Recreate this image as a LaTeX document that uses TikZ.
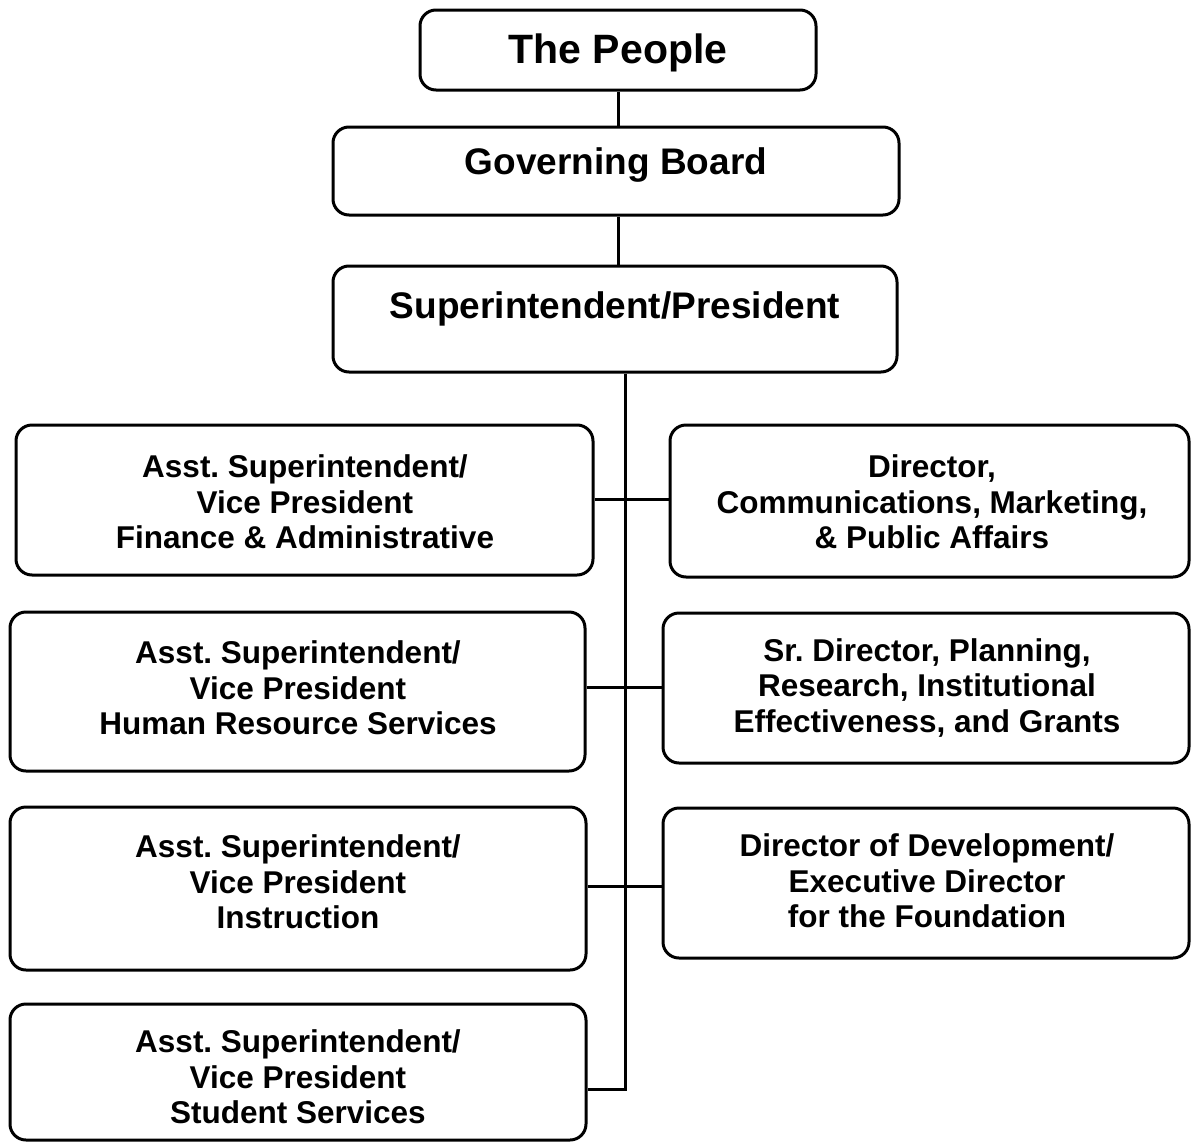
\documentclass[tikz,border=0pt]{standalone}
\usepackage{fontspec}
\setmainfont{Liberation Sans}
\usetikzlibrary{calc}
\frenchspacing
\begin{document}
\frenchspacing
\begin{tikzpicture}[x=1pt,y=-1pt,
  box/.style={draw, line width=3pt, rounded corners=16pt, inner sep=0pt},
  txt/.style={font=\bfseries\fontsize{31.5}{35.5}\selectfont, align=center, inner sep=0pt},
  bigtxt/.style={font=\bfseries\fontsize{37}{42}\selectfont, align=center, inner sep=0pt},
  hugetxt/.style={font=\bfseries\fontsize{41}{46}\selectfont, align=center, inner sep=0pt},
  conn/.style={line width=3pt}]
\useasboundingbox (0,0) rectangle (1191,1143);
% boxes
\node[box, minimum width=396pt, minimum height=80pt] (people) at (618,50) {};
\node[box, minimum width=566pt, minimum height=88pt] (gov) at (616,171) {};
\node[box, minimum width=564pt, minimum height=106pt] (sup) at (615,319) {};
\node[box, minimum width=577pt, minimum height=150pt] (l1) at (304.5,500) {};
\node[box, minimum width=519pt, minimum height=152pt] (r1) at (929.5,501) {};
\node[box, minimum width=575pt, minimum height=159pt] (l2) at (297.5,691.5) {};
\node[box, minimum width=526pt, minimum height=150pt] (r2) at (926,688) {};
\node[box, minimum width=576pt, minimum height=163pt] (l3) at (298,888.5) {};
\node[box, minimum width=526pt, minimum height=150pt] (r3) at (926,883) {};
\node[box, minimum width=576pt, minimum height=136pt] (l4) at (298,1072) {};
% texts
\node[hugetxt] (peoplet) at (618,53) {The People};
\node[bigtxt] (govt) at (616,165) {Governing Board};
\node[bigtxt] (supt) at (615,309) {Superintendent/President};
\node[txt] (l1t) at (305,502) {Asst. Superintendent/\\Vice President\\Finance \& Administrative};
\node[txt] (r1t) at (932,502) {Director,\\Communications, Marketing,\\\& Public Affairs};
\node[txt] (l2t) at (298,688) {Asst. Superintendent/\\Vice President\\Human Resource Services};
\node[txt] (r2t) at (927,688) {Sr. Director, Planning,\\Research, Institutional\\Effectiveness, and Grants};
\node[txt] (l3t) at (298,882) {Asst. Superintendent/\\Vice President\\Instruction};
\node[txt] (r3t) at (927,881) {Director of Development/\\Executive Director\\for the Foundation};
\node[txt] (l4t) at (298,1077) {Asst. Superintendent/\\Vice President\\Student Services};
% connectors
\coordinate (top) at (618,0);
\coordinate (spine) at (625,1089);
\coordinate (c1) at (625,499);
\coordinate (c2) at (625,687);
\coordinate (c3) at (625,886);
\draw[conn] (people.south -| top) -- (gov.north -| top);
\draw[conn] (gov.south -| top) -- (sup.north -| top);
\draw[conn] (sup.south -| spine) -- (spine) -- (spine -| l4.east);
\draw[conn] (c1 -| l1.east) -- (c1 -| r1.west);
\draw[conn] (c2 -| l2.east) -- (c2 -| r2.west);
\draw[conn] (c3 -| l3.east) -- (c3 -| r3.west);
\end{tikzpicture}
\end{document}
